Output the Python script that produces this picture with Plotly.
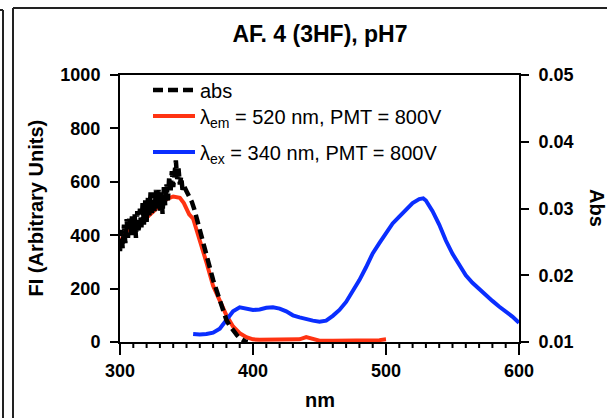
import plotly.graph_objects as go

# Wavelength axes (nm)
abs_nm = list(range(300, 349)) + list(range(350, 398, 2))
# Absorbance (right axis, Abs units)
abs_val = [
    0.0236, 0.0268, 0.0240, 0.0276, 0.0248, 0.0284, 0.0256, 0.0288, 0.0260, 0.0288,
    0.0260, 0.0292, 0.0256, 0.0296, 0.0264, 0.0300, 0.0268, 0.0308, 0.0276, 0.0312,
    0.0280, 0.0316, 0.0288, 0.0324, 0.0292, 0.0324, 0.0296, 0.0328, 0.0300, 0.0328,
    0.0296, 0.0324, 0.0292, 0.0332, 0.0304, 0.0336, 0.0312, 0.0348, 0.0324, 0.0356,
    0.0332, 0.0364, 0.0372, 0.0344, 0.0360, 0.0336, 0.0348, 0.0328, 0.0334,
    0.0326, 0.0318, 0.0310, 0.0298, 0.0284, 0.0268, 0.0254, 0.0240, 0.0224, 0.0208,
    0.0193, 0.0180, 0.0168, 0.0156, 0.0144, 0.0133, 0.0126, 0.0120, 0.0115, 0.0110,
    0.0106, 0.0103, 0.0101, 0.0100,
]

# Excitation scan, emission fixed at 520 nm
em_nm = [300, 305, 310, 315, 320, 325, 330, 335, 340, 345, 348, 350, 352, 355, 360,
         365, 370, 375, 380, 385, 390, 395, 400, 405, 410, 420, 430, 435, 440, 445,
         450, 460, 470, 480, 490, 495, 500]
em_fi = [375, 415, 435, 445, 465, 490, 510, 535, 545, 540, 520, 495, 478, 462, 385,
         298, 210, 155, 100, 58, 33, 18, 10, 8, 8, 8, 8, 10, 18, 12,
         5, 5, 5, 5, 6, 7, 10]

# Emission scan, excitation fixed at 340 nm
ex_nm = [355, 360, 365, 370, 375, 380, 385, 390, 395, 400, 405, 410, 415, 420, 425,
         430, 435, 440, 445, 450, 455, 460, 465, 470, 475, 480, 485, 490, 495, 500,
         505, 510, 515, 520, 525, 528, 530, 535, 540, 545, 550, 555, 560, 565, 570,
         575, 580, 585, 590, 595, 600]
ex_fi = [30, 28, 30, 35, 50, 82, 115, 130, 125, 120, 122, 128, 130, 125, 115,
         100, 92, 85, 80, 76, 80, 98, 120, 150, 190, 232, 280, 332, 370, 410,
         444, 470, 495, 520, 535, 538, 530, 490, 440, 380, 330, 287, 250, 222, 198,
         175, 154, 133, 115, 95, 72]

# Wavelength tick marks and labels
X_RANGE = [300, 600]
x_ticks = [300, 400, 500, 600]
x_ticklabels = ["300", "400", "500", "600"]
x_minor_ticks = [v for v in range(310, 600, 10) if v % 100]

FONT = "Liberation Sans"
BLACK = "black"

L, R, T, B = 120, 88, 75, 76
W, H = 607, 418
pw, ph = W - L - R, H - T - B
MAJOR_LEN, MINOR_LEN = 11, 6


def px(x):
    return (x - L) / pw


def py(y):
    return (H - B - y) / ph


def nm_to_paper(v):
    return (v - X_RANGE[0]) / (X_RANGE[1] - X_RANGE[0])


fig = go.Figure()
fig.add_trace(go.Scatter(
    x=abs_nm, y=abs_val, yaxis="y2", mode="lines", name="abs", legend="legend",
    line=dict(color="black", width=4.5, dash="10px,5px"),
))
fig.add_trace(go.Scatter(
    x=em_nm, y=em_fi, mode="lines", legend="legend2",
    name="λ<sub>em</sub> = 520 nm, PMT = 800V",
    line=dict(color="#FF3312", width=4),
))
fig.add_trace(go.Scatter(
    x=ex_nm, y=ex_fi, mode="lines", legend="legend3",
    name="λ<sub>ex</sub> = 340 nm, PMT = 800V",
    line=dict(color="#0A2EFF", width=4),
))

tick_font = dict(family=FONT, size=18, color=BLACK, weight="bold")
title_font = dict(family=FONT, size=20, color=BLACK, weight="bold")

leg_common = dict(xanchor="left", yanchor="middle", bgcolor="rgba(0,0,0,0)",
                  borderwidth=0, font=dict(family=FONT, size=20, color=BLACK),
                  itemwidth=42)

fig.update_layout(
    width=W, height=H,
    margin=dict(l=L, r=R, t=T, b=B, pad=0),
    paper_bgcolor="white", plot_bgcolor="white",
    title=dict(text="<b>AF. 4 (3HF), pH7</b>", x=px(320), xref="paper", xanchor="center",
               y=1 - 34 / H, yanchor="middle",
               font=dict(family=FONT, size=23, color=BLACK)),
    xaxis=dict(range=X_RANGE, tickmode="array", tickvals=x_ticks,
               ticktext=["<b>%s</b>" % t for t in x_ticklabels],
               showgrid=False, zeroline=False,
               showline=True, linecolor=BLACK, linewidth=2, mirror=True,
               ticks="outside", ticklen=MAJOR_LEN, tickwidth=2, tickcolor=BLACK,
               tickfont=dict(family=FONT, size=18, color=BLACK)),
    yaxis=dict(range=[0, 1000], dtick=200, showgrid=False, zeroline=False,
               showline=True, linecolor=BLACK, linewidth=2,
               ticks="outside", ticklen=8, tickwidth=2, tickcolor=BLACK,
               tickfont=tick_font, ticklabelstandoff=6),
    yaxis2=dict(range=[0.01, 0.05], dtick=0.01, tick0=0.01, tickformat=".2f",
                overlaying="y", side="right", showgrid=False, zeroline=False,
                showline=True, linecolor=BLACK, linewidth=2,
                ticks="outside", ticklen=8, tickwidth=2, tickcolor=BLACK,
                tickfont=tick_font, ticklabelstandoff=6),
    legend=dict(x=px(148), y=py(90), **leg_common),
    legend2=dict(x=px(148), y=py(116), **leg_common),
    legend3=dict(x=px(148), y=py(152), **leg_common),
    showlegend=True,
)

# Tick marks below the wavelength axis, drawn on the top layer
for vals, ln in ((x_ticks, MAJOR_LEN), (x_minor_ticks, MINOR_LEN)):
    for v in vals:
        fig.add_shape(type="line", xref="paper", yref="paper", layer="above",
                      x0=nm_to_paper(v), x1=nm_to_paper(v), y0=0, y1=-ln / ph,
                      line=dict(color=BLACK, width=2))

# Axis titles
fig.add_annotation(text="FI (Arbitrary Units)", xref="paper", yref="paper",
                   x=px(35), y=0.5, textangle=-90, showarrow=False,
                   font=title_font, xanchor="center", yanchor="middle")
fig.add_annotation(text="Abs", xref="paper", yref="paper",
                   x=px(597), y=py(208), textangle=90, showarrow=False,
                   font=title_font, xanchor="center", yanchor="middle")
fig.add_annotation(text="nm", xref="paper", yref="paper",
                   x=px(320), y=py(400), showarrow=False,
                   font=title_font, xanchor="center", yanchor="middle")

# Panel frame lines
frame = dict(color="#222222", width=2)
fig.add_shape(type="line", xref="paper", yref="paper",
              x0=px(13), y0=py(8), x1=px(607), y1=py(8), line=frame)
fig.add_shape(type="line", xref="paper", yref="paper",
              x0=px(13), y0=py(8), x1=px(13), y1=py(418), line=frame)
fig.add_shape(type="line", xref="paper", yref="paper",
              x0=px(0), y0=py(10), x1=px(3), y1=py(10), line=frame)
fig.add_shape(type="line", xref="paper", yref="paper",
              x0=px(3), y0=py(10), x1=px(3), y1=py(418), line=frame)

fig.write_html("out.html")
